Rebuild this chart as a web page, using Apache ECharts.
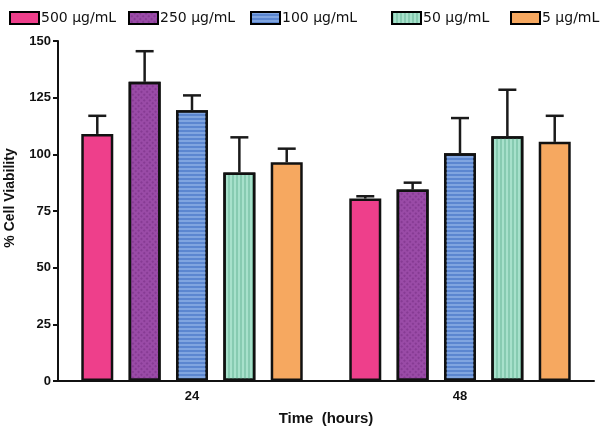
<!DOCTYPE html>
<html>
<head>
<meta charset="utf-8">
<script src="https://cdn.jsdelivr.net/npm/echarts@6/dist/echarts.min.js"></script>
<style>
html,body{margin:0;padding:0;background:#fff;}
#chart{width:600px;height:427px;}
</style>
</head>
<body>
<div id="chart"></div>
<script>
const categories = ['24', '48'];
const seriesNames = ['500 µg/mL', '250 µg/mL', '100 µg/mL', '50 µg/mL', '5 µg/mL'];
const mean500 = [109, 80.5];
const mean250 = [132, 84.5];
const mean100 = [119.5, 100.5];
const mean50 = [92, 108];
const mean5 = [96.5, 105.5];
const errTop500 = [117, 81.5];
const errTop250 = [145.5, 87.5];
const errTop100 = [126, 116];
const errTop50 = [107.5, 128.5];
const errTop5 = [102.5, 117];
const yTicks = [0, 25, 50, 75, 100, 125, 150];

const means = [mean500, mean250, mean100, mean50, mean5];
const errTops = [errTop500, errTop250, errTop100, errTop50, errTop5];
const colors = ['#ee3f8b', '#9a4ba7', '#5b86d0', '#a7e1cb', '#f6a860'];
const decals = [
  null,
  {symbol: 'rect', symbolSize: 1, dashArrayX: [2, 2], dashArrayY: [2, 2], rotation: Math.PI / 4, color: 'rgba(110,40,125,0.45)'},
  {symbol: 'rect', symbolSize: 1, dashArrayX: [1, 0], dashArrayY: [1.5, 1.5], rotation: 0, color: 'rgba(140,175,230,0.75)'},
  {symbol: 'rect', symbolSize: 1, dashArrayX: [1.5, 1.5], dashArrayY: [1, 0], rotation: 0, color: 'rgba(110,185,155,0.55)'},
  null
];
const legendLefts = [4, 123, 245, 386, 505];

const BAR_W = 32;
const GAP_RATIO = 0.48;
const STEP = BAR_W * (1 + GAP_RATIO);

const series = [];
seriesNames.forEach((name, i) => {
  const itemStyle = {color: colors[i], borderColor: '#111', borderWidth: 2.5};
  if (decals[i]) itemStyle.decal = decals[i];
  series.push({
    name: name,
    type: 'bar',
    data: means[i],
    barWidth: BAR_W,
    barGap: (GAP_RATIO * 100) + '%',
    itemStyle: itemStyle,
    z: 3,
    emphasis: {disabled: true}
  });
});
seriesNames.forEach((name, i) => {
  series.push({
    name: 'err' + i,
    type: 'custom',
    z: 2,
    data: categories.map((c, k) => [k, means[i][k], errTops[i][k]]),
    renderItem: function (params, api) {
      const base = api.coord([api.value(0), api.value(1)]);
      const top = api.coord([api.value(0), api.value(2)]);
      const off = (i - 2) * STEP;
      const x = base[0] + off;
      const style = {stroke: '#1a1a1a', lineWidth: 2.5};
      return {
        type: 'group',
        children: [
          {type: 'line', shape: {x1: x, y1: base[1], x2: x, y2: top[1]}, style: style},
          {type: 'line', shape: {x1: x - 9, y1: top[1], x2: x + 9, y2: top[1]}, style: style}
        ]
      };
    }
  });
});

const legends = seriesNames.map((name, i) => ({
  data: [name],
  left: legendLefts[i],
  top: 6,
  itemWidth: 29,
  itemHeight: 12,
  itemGap: 0,
  icon: 'rect',
  selectedMode: false,
  itemStyle: {borderColor: '#000', borderWidth: 2},
  textStyle: {fontFamily: 'DejaVu Sans', fontSize: 14, color: '#111', padding: [0, 0, 0, -3]}
}));

const chart = echarts.init(document.getElementById('chart'), null, {renderer: 'canvas'});
chart.setOption({
  animation: false,
  backgroundColor: '#fff',
  legend: legends,
  grid: {left: 58, right: 6, top: 41, bottom: 46, containLabel: false, outerBoundsMode: 'none'},
  xAxis: {
    type: 'category',
    data: categories,
    axisLine: {lineStyle: {color: '#111', width: 2}},
    axisTick: {alignWithLabel: true, length: 5, lineStyle: {color: '#111', width: 2}},
    axisLabel: {fontFamily: 'Liberation Sans', fontWeight: 'bold', fontSize: 13, color: '#111', margin: 9},
    name: 'Time  (hours)',
    nameLocation: 'middle',
    nameGap: 30,
    nameTextStyle: {fontFamily: 'Liberation Sans', fontWeight: 'bold', fontSize: 15, color: '#111'}
  },
  yAxis: {
    type: 'value',
    min: yTicks[0],
    max: yTicks[yTicks.length - 1],
    interval: yTicks[1] - yTicks[0],
    axisLine: {show: true, lineStyle: {color: '#111', width: 2}},
    axisTick: {show: true, length: 5, lineStyle: {color: '#111', width: 2}},
    axisLabel: {fontFamily: 'Liberation Sans', fontWeight: 'bold', fontSize: 13, color: '#111', margin: 7},
    splitLine: {show: false},
    name: '% Cell Viability',
    nameLocation: 'middle',
    nameGap: 41,
    nameTextStyle: {fontFamily: 'Liberation Sans', fontWeight: 'bold', fontSize: 14, color: '#111', padding: [0, 0, 0, 26]}
  },
  series: series
});
</script>
</body>
</html>
